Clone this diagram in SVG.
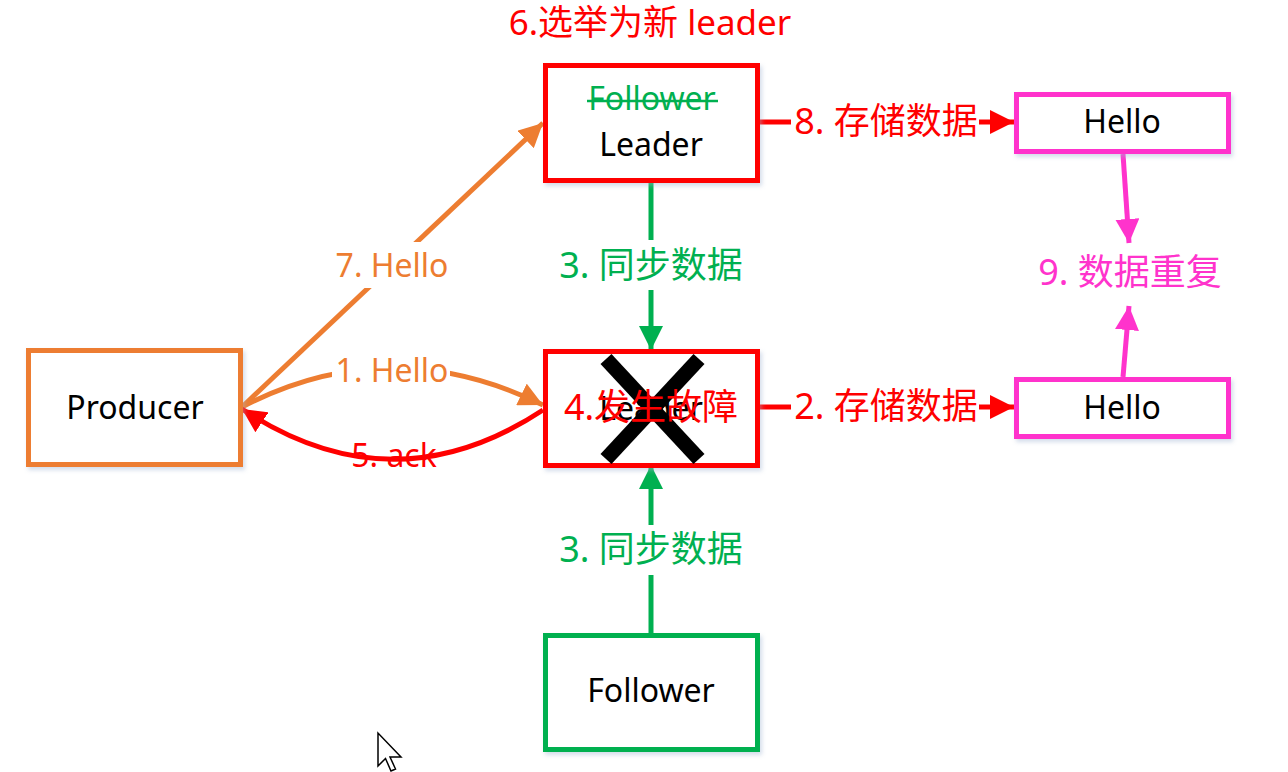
<svg xmlns="http://www.w3.org/2000/svg" width="1288" height="772" viewBox="0 0 1288 772">
<style>
.box{fill:#fff;stroke-width:5;filter:url(#sh)}
.t{font-family:"Noto Sans","Noto Sans CJK SC",sans-serif;font-size:32px;text-anchor:middle;fill:#000}
.c{font-family:"Noto Sans","Noto Sans CJK SC",sans-serif;font-size:36px;text-anchor:middle}
.or{stroke:#ED7D31}.rd{stroke:#FF0000}.gr{stroke:#00B050}.mg{stroke:#FF33CC}
.ln{fill:none;stroke-width:5}
</style>
<defs>
<filter id="sh" x="-10%" y="-10%" width="130%" height="130%">
<feDropShadow dx="2" dy="3" stdDeviation="2" flood-color="#9fb4d0" flood-opacity="0.45"/>
</filter>
<marker id="aOr" markerUnits="userSpaceOnUse" markerWidth="26" markerHeight="24" refX="24" refY="12" orient="auto"><path d="M0,0 L24,12 L0,24 Z" fill="#ED7D31"/></marker>
<marker id="aRd" markerUnits="userSpaceOnUse" markerWidth="26" markerHeight="24" refX="24" refY="12" orient="auto"><path d="M0,0 L24,12 L0,24 Z" fill="#FF0000"/></marker>
<marker id="aGr" markerUnits="userSpaceOnUse" markerWidth="26" markerHeight="24" refX="24" refY="12" orient="auto"><path d="M0,0 L24,12 L0,24 Z" fill="#00B050"/></marker>
<marker id="aMg" markerUnits="userSpaceOnUse" markerWidth="26" markerHeight="24" refX="24" refY="12" orient="auto"><path d="M0,0 L24,12 L0,24 Z" fill="#FF33CC"/></marker>
</defs>
<rect width="1288" height="772" fill="#fff"/>

<g id="connectors">
<!-- 7. Hello -->
<line class="ln or" x1="242" y1="407" x2="543" y2="123" marker-end="url(#aOr)"/>
<rect x="330" y="242" width="124" height="46" fill="#fff"/>
<text class="t" x="392" y="277" fill="#ED7D31" style="fill:#ED7D31">7. Hello</text>
<!-- 1. Hello -->
<path class="ln or" d="M242,407 Q390,330 543,405" marker-end="url(#aOr)"/>
<rect x="332" y="352" width="118" height="36" fill="#fff"/>
<text class="t" x="392" y="382" style="fill:#ED7D31">1. Hello</text>
<!-- 5. ack -->
<path class="ln rd" d="M543,410 Q393,509 242,409" marker-end="url(#aRd)"/>
<text class="t" x="394" y="467" style="fill:#FF0000">5. ack</text>
<!-- 3. sync top -->
<line class="ln gr" x1="651" y1="181" x2="651" y2="240"/>
<line class="ln gr" x1="651" y1="290" x2="651" y2="350" marker-end="url(#aGr)"/>
<text class="c" x="651" y="278" fill="#00B050">3. 同步数据</text>
<!-- 3. sync bottom -->
<line class="ln gr" x1="651" y1="633" x2="651" y2="575"/>
<line class="ln gr" x1="651" y1="525" x2="651" y2="465" marker-end="url(#aGr)"/>
<text class="c" x="651" y="562" fill="#00B050">3. 同步数据</text>
<!-- 8. store -->
<line class="ln rd" x1="760" y1="122" x2="791" y2="122"/>
<line class="ln rd" x1="979" y1="122" x2="1014" y2="122" marker-end="url(#aRd)"/>
<text class="c" x="886" y="134" fill="#FF0000">8. 存储数据</text>
<!-- 2. store -->
<line class="ln rd" x1="760" y1="407" x2="791" y2="407"/>
<line class="ln rd" x1="979" y1="407" x2="1014" y2="407" marker-end="url(#aRd)"/>
<text class="c" x="886" y="419" fill="#FF0000">2. 存储数据</text>
<!-- 9. duplicate -->
<line class="ln mg" x1="1123" y1="154" x2="1129" y2="243" marker-end="url(#aMg)"/>
<line class="ln mg" x1="1123" y1="377" x2="1129" y2="306" marker-end="url(#aMg)"/>
<text class="c" x="1130" y="285" fill="#FF33CC">9. 数据重复</text>
</g>

<g id="producer">
<rect class="box or" x="28.5" y="350.5" width="212" height="114"/>
<text class="t" x="135" y="419">Producer</text>
</g>

<g id="new-leader">
<text class="c" x="650" y="35" fill="#FF0000" style="font-size:35px">6.选举为新 leader</text>
<rect class="box rd" x="545.5" y="65.5" width="212" height="115"/>
<text class="t" x="652" y="110" style="fill:#00B050">Follower</text>
<line x1="587" y1="101" x2="718" y2="101" stroke="#00B050" stroke-width="2.5"/>
<text class="t" x="651" y="156">Leader</text>
</g>

<g id="old-leader">
<rect class="box rd" x="545.5" y="351.5" width="212" height="114"/>
<text class="t" x="651" y="420">Leader</text>
<line x1="606" y1="359" x2="699" y2="459" stroke="#000" stroke-width="15"/>
<line x1="699" y1="359" x2="606" y2="459" stroke="#000" stroke-width="15"/>
<text class="c" x="651" y="420" fill="#FF0000">4.发生故障</text>
</g>

<g id="follower">
<rect class="box gr" x="545.5" y="635.5" width="212" height="114"/>
<text class="t" x="651" y="702">Follower</text>
</g>

<g id="hello-top">
<rect class="box mg" x="1016.5" y="94.5" width="212" height="57"/>
<text class="t" x="1122" y="133">Hello</text>
</g>

<g id="hello-bottom">
<rect class="box mg" x="1016.5" y="379.5" width="212" height="57"/>
<text class="t" x="1122" y="419">Hello</text>
</g>

<g id="cursor">
<path d="M378,733 L378,766 L385.5,758.5 L391,771 L395.5,769 L390,757 L401,757 Z" fill="#fff" stroke="#000" stroke-width="1.5" stroke-linejoin="miter"/>
</g>
</svg>
